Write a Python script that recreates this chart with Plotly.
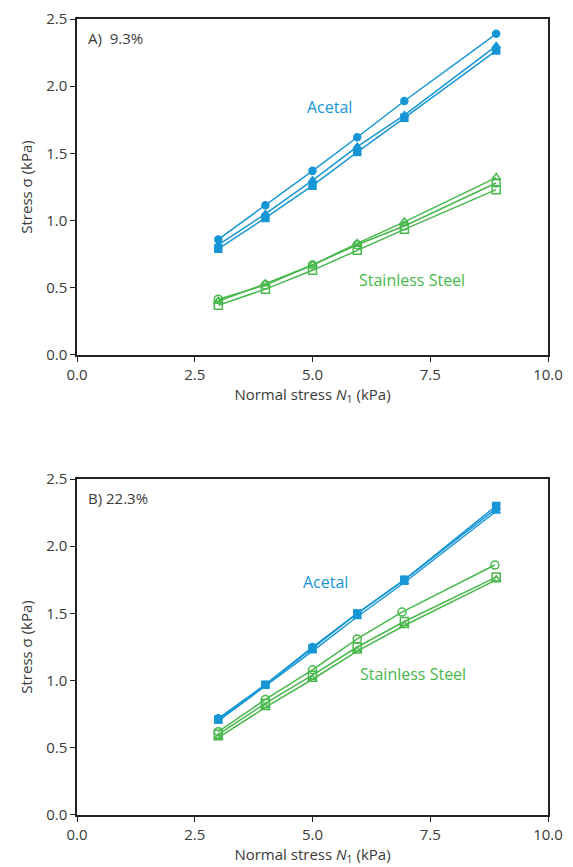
import plotly.graph_objects as go

# ---------------- data ----------------
x_pts = [3.0, 4.0, 5.0, 5.95, 6.95, 8.9]

# Panel A (9.3%)
a_acetal_circle = [0.86, 1.115, 1.37, 1.62, 1.89, 2.39]
a_acetal_tri    = [0.82, 1.05, 1.30, 1.55, 1.785, 2.30]
a_acetal_sq     = [0.79, 1.02, 1.26, 1.51, 1.765, 2.265]
a_ss_circle     = [0.415, 0.52, 0.67, 0.82, 0.96, 1.28]
a_ss_tri        = [0.40, 0.53, 0.67, 0.83, 0.99, 1.32]
a_ss_sq         = [0.37, 0.49, 0.63, 0.78, 0.935, 1.23]

# Panel B (22.3%)
b_acetal_circle = [0.72, 0.97, 1.25, 1.50, 1.75, 2.28]
b_acetal_tri    = [0.70, 0.96, 1.22, 1.475, 1.73, 2.26]
b_acetal_sq     = [0.71, 0.97, 1.24, 1.50, 1.75, 2.30]
b_ss_circle_x   = [3.0, 4.0, 5.0, 5.95, 6.9, 8.87]
b_ss_circle     = [0.62, 0.86, 1.08, 1.31, 1.51, 1.86]
b_ss_tri        = [0.575, 0.80, 1.01, 1.22, 1.41, 1.75]
b_ss_sq         = [0.60, 0.83, 1.04, 1.25, 1.44, 1.77]

x_ticks = [0.0, 2.5, 5.0, 7.5, 10.0]
y_ticks = [0.0, 0.5, 1.0, 1.5, 2.0, 2.5]

BLUE = "#1796d6"
GREEN = "#48b84c"
TXT = "#3a3a3a"
FONT = "Open Sans"

fig = go.Figure()

def add(x, y, color, symbol, xa, ya, size=7):
    fig.add_trace(go.Scatter(
        x=x, y=y, mode="lines+markers", xaxis=xa, yaxis=ya,
        line=dict(color=color, width=1.5),
        marker=dict(symbol=symbol, size=size, color=color,
                    line=dict(color=color, width=1.5)),
        showlegend=False))

add(x_pts, a_acetal_circle, BLUE, "circle", "x", "y")
add(x_pts, a_acetal_tri, BLUE, "triangle-up", "x", "y")
add(x_pts, a_acetal_sq, BLUE, "square", "x", "y")
add(x_pts, a_ss_circle, GREEN, "circle-open", "x", "y", 8)
add(x_pts, a_ss_tri, GREEN, "triangle-up-open", "x", "y", 8)
add(x_pts, a_ss_sq, GREEN, "square-open", "x", "y", 8)

add(x_pts, b_acetal_circle, BLUE, "circle", "x2", "y2")
add(x_pts, b_acetal_tri, BLUE, "triangle-up", "x2", "y2")
add(x_pts, b_acetal_sq, BLUE, "square", "x2", "y2")
add(b_ss_circle_x, b_ss_circle, GREEN, "circle-open", "x2", "y2", 8)
add(x_pts, b_ss_tri, GREEN, "triangle-up-open", "x2", "y2", 8)
add(x_pts, b_ss_sq, GREEN, "square-open", "x2", "y2", 8)

axis_common = dict(
    showline=True, linecolor="#222", linewidth=1.5, mirror=True,
    ticks="outside", ticklen=5, tickwidth=1.2, tickcolor="#222",
    showgrid=False, zeroline=False, automargin=False,
    tickfont=dict(family=FONT, size=15, color=TXT),
)
xtitle = dict(text="Normal stress <i>N</i><sub>1</sub> (kPa)",
              font=dict(family=FONT, size=15, color=TXT), standoff=4)
ytitle = dict(text="Stress σ (kPa)",
              font=dict(family=FONT, size=15, color=TXT), standoff=10)

fig.update_layout(
    width=573, height=867,
    margin=dict(l=77, r=25, t=19, b=52),
    paper_bgcolor="white", plot_bgcolor="white",
    xaxis=dict(**axis_common, range=[0, 10], tickvals=x_ticks,
               tickformat=".1f", anchor="y", domain=[0, 1], title=xtitle),
    yaxis=dict(**axis_common, range=[0, 2.5], tickvals=y_ticks,
               tickformat=".1f", anchor="x", domain=[0.5779, 1], title=ytitle),
    xaxis2=dict(**axis_common, range=[0, 10], tickvals=x_ticks,
                tickformat=".1f", anchor="y2", domain=[0, 1], title=xtitle),
    yaxis2=dict(**axis_common, range=[0, 2.5], tickvals=y_ticks,
                tickformat=".1f", anchor="x2", domain=[0, 0.4221], title=ytitle),
)

def ann(text, x, y, xref, yref, color, xanchor="center", size=15):
    fig.add_annotation(text=text, x=x, y=y, xref=xref, yref=yref,
                       showarrow=False, xanchor=xanchor, yanchor="middle",
                       font=dict(family=FONT, size=size, color=color))

ann("A)  9.3%", 0.2, 2.36, "x", "y", TXT, "left", 15)
ann("Acetal", 5.37, 1.845, "x", "y", BLUE, size=16)
ann("Stainless Steel", 7.11, 0.558, "x", "y", GREEN, size=16)
ann("B) 22.3%", 0.2, 2.36, "x2", "y2", TXT, "left", 15)
ann("Acetal", 5.27, 1.73, "x2", "y2", BLUE, size=16)
ann("Stainless Steel", 7.13, 1.05, "x2", "y2", GREEN, size=16)

fig.write_html("out.html", config={"displayModeBar": False},
               post_script="document.body.style.margin='0';document.body.style.overflow='hidden';")
